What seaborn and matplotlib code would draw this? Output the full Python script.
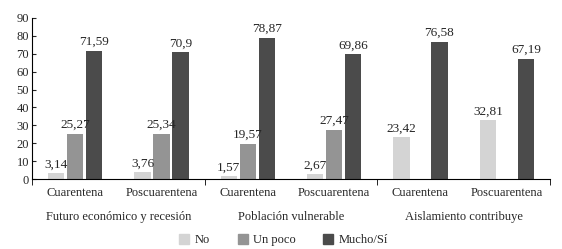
import pandas as pd
import seaborn as sns
import matplotlib.pyplot as plt
from matplotlib.transforms import blended_transform_factory

# Data
topics = ["Futuro económico y recesión", "Población vulnerable", "Aislamiento contribuye"]
periods = ["Cuarentena", "Poscuarentena"]
series = ["No", "Un poco", "Mucho/Sí"]
no_values = [3.14, 3.76, 1.57, 2.67, 23.42, 32.81]
un_poco_values = [25.27, 25.34, 19.57, 27.47, None, None]
mucho_values = [71.59, 70.9, 78.87, 69.86, 76.58, 67.19]
colors = ["#d4d4d4", "#949494", "#4b4b4b"]

slots = [f"{t}|{p}" for t in topics for p in periods]
rows = []
for name, vals in zip(series, [no_values, un_poco_values, mucho_values]):
    for slot, v in zip(slots, vals):
        rows.append({"slot": slot, "serie": name, "valor": v})
df = pd.DataFrame(rows)

sns.set_style("ticks")
plt.rcParams["font.family"] = ["Liberation Serif", "DejaVu Serif"]
plt.rcParams["font.size"] = 9

fig = plt.figure(figsize=(5.62, 2.49), dpi=100)
ax = fig.add_axes([32 / 562, 1 - 179 / 249, 518 / 562, 161 / 249])

sns.barplot(data=df, x="slot", y="valor", hue="serie", order=slots,
            hue_order=series, palette=colors, width=0.66, gap=0.15,
            saturation=1, linewidth=0, legend=False, ax=ax)

for cont in ax.containers:
    labels = []
    for bar in cont:
        h = bar.get_height()
        labels.append("" if pd.isna(h) or h == 0 else f"{h:g}".replace(".", ","))
    ax.bar_label(cont, labels=labels, padding=2, fontsize=9.5)

ax.set_ylim(0, 90)
ax.set_yticks(range(0, 91, 10))
ax.set_xlim(-0.5, len(slots) - 0.5)
ax.set_xticks(range(len(slots)))
ax.set_xticklabels([s.split("|")[1] for s in slots])
ax.set_xticks([-0.5, 1.5, 3.5, 5.5], minor=True)
ax.tick_params(axis="x", which="major", length=0, pad=6, labelsize=9)
ax.tick_params(axis="x", which="minor", length=4, direction="out", color="black")
ax.tick_params(axis="y", length=3, direction="in", labelsize=9, pad=2)
ax.set_xlabel("")
ax.set_ylabel("")
for s in ["top", "right"]:
    ax.spines[s].set_visible(False)
for s in ["left", "bottom"]:
    ax.spines[s].set_color("black")
    ax.spines[s].set_linewidth(0.8)

trans = blended_transform_factory(ax.transData, ax.transAxes)
for i, t in enumerate(topics):
    ax.text(2 * i + 0.5, -0.235, t, transform=trans, ha="center", va="center", fontsize=9)

handles = [plt.Rectangle((0, 0), 1, 1, color=c) for c in colors]
fig.legend(handles, series, loc="center", bbox_to_anchor=(0.505, 1 - 240 / 249),
           ncol=3, frameon=False, fontsize=9, handlelength=0.8, handleheight=0.8,
           columnspacing=2.2, handletextpad=0.45, borderpad=0.1)

fig.savefig("out.png", dpi=100)
